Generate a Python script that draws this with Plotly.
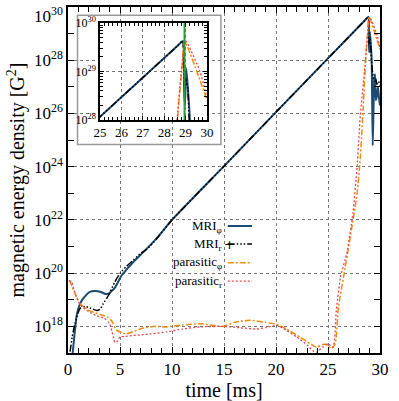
import numpy as np
import plotly.graph_objects as go

# time [ms] and log10 of the magnetic energy density [G^2]
t_mri_phi = [0.45, 0.6, 0.83, 1.1, 1.47, 2.1, 2.6, 3.1, 3.6, 3.9, 4.5, 5.16, 5.6, 6.3, 7.0, 7.6,
             8.5, 10.0, 15.0, 20.0, 25.0, 28.6, 28.88, 28.93, 28.97, 29.03, 29.1, 29.2, 29.3,
             29.45, 29.52, 29.6, 29.68, 29.8, 29.9, 30.0]
lg_mri_phi = [17.0, 17.6, 18.4, 18.8, 19.05, 19.3, 19.33, 19.3, 19.22, 19.23, 19.45, 19.92, 20.12,
              20.43, 20.7, 20.93, 21.3, 22.0, 24.02, 26.05, 28.07, 29.52, 29.63, 28.6, 28.3, 29.07,
              28.7, 28.0, 24.8, 27.3, 27.47, 26.5, 26.6, 27.0, 26.6, 26.3]

t_mri_r = [0.2, 0.4, 0.67, 1.15, 1.63, 2.2, 2.76, 3.1, 3.4, 3.9, 4.5, 5.0, 5.6, 6.3, 7.0, 7.6, 8.5,
           10.0, 15.0, 20.0, 25.0, 28.6, 28.86, 28.9, 28.95, 29.0, 29.1, 29.17, 29.3, 29.45, 29.6,
           29.7, 29.85, 30.0]
lg_mri_r = [17.05, 17.6, 18.1, 18.67, 18.75, 18.68, 18.6, 18.65, 18.86, 19.17, 19.67, 19.99, 20.25,
            20.5, 20.75, 20.9, 21.28, 22.0, 24.02, 26.05, 28.07, 29.52, 29.63, 29.2, 28.6, 28.86,
            28.65, 28.0, 27.5, 27.2, 27.3, 27.1, 27.2, 27.05]

t_par_phi = [0.1, 0.2, 0.6, 1.15, 2.0, 3.1, 3.8, 4.2, 4.7, 5.6, 6.9, 8.2, 9.5, 11.0, 12.7, 14.9,
             16.0, 17.5, 19.0, 20.1, 21.0, 22.3, 23.9, 24.5, 25.0, 25.3, 25.7, 26.0, 26.5, 27.1,
             27.8, 28.1, 28.4, 28.65, 28.82, 28.95, 29.67, 30.0]
lg_par_phi = [19.72, 19.67, 19.3, 18.85, 18.6, 18.45, 18.35, 18.2, 17.85, 17.72, 17.9, 18.0, 17.98,
              18.05, 18.1, 18.0, 18.15, 18.23, 18.15, 18.07, 17.9, 17.6, 17.22, 17.32, 17.3, 17.16,
              17.35, 18.73, 19.86, 21.25, 23.0, 24.3, 26.3, 28.2, 29.0, 29.63, 28.82, 28.41]

t_par_r = [0.1, 0.35, 0.7, 1.2, 2.0, 2.76, 3.5, 4.0, 4.3, 4.5, 4.7, 5.0, 5.5, 6.3, 7.0, 8.0, 9.5,
           11.0, 12.7, 14.9, 16.5, 18.1, 19.0, 20.1, 21.0, 22.0, 23.0, 23.6, 23.9, 24.5, 25.0,
           25.5, 25.8, 26.2, 26.8, 27.4, 27.8, 28.1, 28.56, 28.8, 29.0, 29.67, 30.0]
lg_par_r = [19.72, 19.67, 19.2, 18.8, 18.55, 18.4, 18.3, 18.1, 17.7, 17.4, 17.42, 17.6, 17.62,
            17.66, 17.68, 17.72, 17.79, 17.9, 17.98, 18.0, 17.95, 17.9, 17.95, 18.04, 17.85, 17.6,
            17.3, 17.07, 17.03, 17.22, 17.35, 17.22, 18.6, 19.86, 20.74, 22.25, 24.0, 25.9, 27.8,
            29.0, 29.63, 29.0, 28.45]

# time marked by the green line in the inset
t_mark = 28.95

names = ["MRI<sub>φ</sub>", "MRI<sub>r</sub>", "parasitic<sub>φ</sub>", "parasitic<sub>r</sub>"]
series = [(t_mri_phi, lg_mri_phi), (t_mri_r, lg_mri_r), (t_par_phi, lg_par_phi), (t_par_r, lg_par_r)]
styles = [
    dict(color="#1b4b73", width=2, dash="solid"),
    dict(color="black", width=1.5, dash="7px,2px,1.5px,2px,1.5px,2px,1.5px,2px"),
    dict(color="#f08c10", width=1.5, dash="6px,2px,2px,2px"),
    dict(color="#e8454a", width=1.3, dash="2px,2px"),
]

FONT = "Liberation Serif"

fig = go.Figure()

# main panel
for (t, lg), name, st in zip(series, names, styles):
    fig.add_trace(go.Scatter(x=t, y=np.power(10.0, lg), mode="lines", name=name,
                             line=dict(shape="spline", smoothing=0.5, **st), showlegend=False))

# inset panel
for (t, lg), name, st in zip(series, names, styles):
    fig.add_trace(go.Scatter(x=t, y=np.power(10.0, lg), mode="lines", name=name,
                             line=dict(shape="spline", smoothing=0.5, **st), showlegend=False,
                             xaxis="x2", yaxis="y2"))
fig.add_trace(go.Scatter(x=[t_mark, t_mark], y=[1e28, 1e30], mode="lines",
                         line=dict(color="#2e9a3a", width=2), showlegend=False,
                         xaxis="x2", yaxis="y2"))

grid = dict(showgrid=True, gridcolor="#777", griddash="dot", gridwidth=1)
frame = dict(showline=True, linecolor="black", linewidth=1.5, mirror="ticks",
             ticks="inside", tickcolor="black", zeroline=False, automargin=False)

exps = list(range(18, 31, 2))
even = [10.0 ** k for k in exps]
odd = [10.0 ** k for k in range(17, 30, 2)]
inset_minor = [m * 10.0 ** k for k in (28, 29) for m in range(2, 10)]
# the top label is drawn separately, pushed down inside the page
ylabels = ["10<sup>%d</sup>" % k for k in exps[:-1]] + [""]

fig.update_layout(
    width=399, height=401,
    margin=dict(l=68, r=19, t=7, b=48),
    paper_bgcolor="white", plot_bgcolor="white",
    font=dict(family=FONT, size=17, color="black"),
    xaxis=dict(range=[0, 30], tickvals=[0, 5, 10, 15, 20, 25, 30], ticklen=6, tickwidth=1,
               minor=dict(dtick=1, ticks="inside", ticklen=5, tickcolor="black", showgrid=False),
               title=dict(text="time [ms]", standoff=14), **grid, **frame),
    yaxis=dict(type="log", range=[17, 30], tickvals=even, ticktext=ylabels, ticklen=6,
               minor=dict(tickvals=odd, ticks="inside", ticklen=6, tickcolor="black", showgrid=False),
               title=dict(text="magnetic energy density [G<sup>2</sup>]", standoff=4),
               **grid, **frame),
    xaxis2=dict(domain=[0.1026, 0.4455], anchor="y2", range=[25, 30], dtick=1, ticklen=4,
                tickfont=dict(size=13),
                minor=dict(dtick=0.2, ticks="inside", ticklen=3, tickcolor="black", showgrid=False),
                **grid, **frame),
    yaxis2=dict(domain=[0.673, 0.954], anchor="x2", type="log", range=[28, 30],
                tickvals=[1e28, 1e29, 1e30], ticklen=4,
                ticktext=["10<sup>28</sup>", "10<sup>29</sup>", "10<sup>30</sup>"],
                tickfont=dict(size=12), ticklabeloverflow="allow",
                minor=dict(tickvals=inset_minor, ticks="inside", ticklen=3, tickcolor="black",
                           showgrid=False),
                **grid, **frame),
)

fig.add_annotation(text="10<sup>%d</sup>" % exps[-1], xref="paper", yref="paper", x=0, y=1,
                   xanchor="right", yanchor="middle", xshift=-3, yshift=-8, showarrow=False,
                   font=dict(size=17))

# white frame behind the inset
fig.add_shape(type="rect", xref="x2 domain", yref="y2 domain", x0=-0.21, x1=1.13, y0=-0.25, y1=1.08,
              line=dict(color="#999", width=1.5), fillcolor="white", layer="below")

# legend: label on the left, line sample on the right
rows = [0.367, 0.315, 0.261, 0.208]
for name, st, yr in zip(names, styles, rows):
    fig.add_annotation(text=name, xref="paper", yref="paper", x=0.5, y=yr, xanchor="right",
                       yanchor="middle", showarrow=False, font=dict(size=13))
    fig.add_shape(type="line", xref="paper", yref="paper", x0=0.512, x1=0.59, y0=yr, y1=yr,
                  line=st)
# the point symbol of the MRI_r sample
fig.add_annotation(text="+", xref="paper", yref="paper", x=0.518, y=rows[1], showarrow=False,
                   xanchor="center", yanchor="middle", font=dict(size=13, family="DejaVu Sans"))

fig.write_html("out.html", config={"displayModeBar": False},
               post_script="document.body.style.margin='0';")
